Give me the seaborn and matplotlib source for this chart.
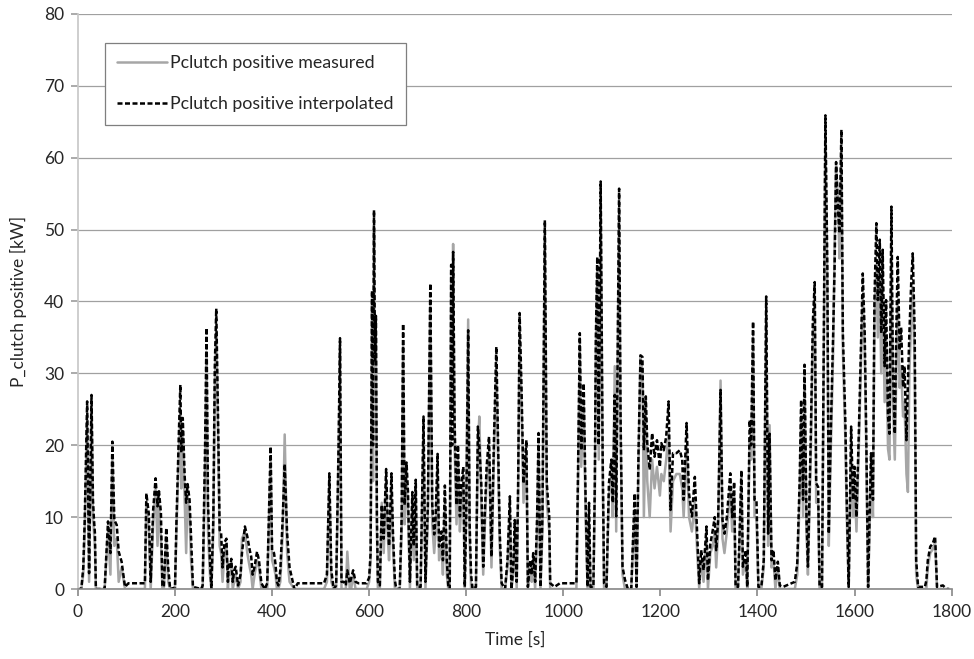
import matplotlib
matplotlib.use("Agg")
import matplotlib.pyplot as plt
import seaborn as sns
import pandas as pd

# --- data (time in s, clutch power in kW) ---
time_s = [
    0, 7, 11, 14, 19, 23, 28, 31, 33, 35,
    37, 55, 62, 67, 71, 75, 80, 84, 90, 97,
    104, 138, 141, 146, 150, 155, 160, 164, 167, 171,
    174, 177, 182, 186, 190, 200, 203, 208, 211, 213,
    216, 220, 223, 226, 230, 233, 237, 254, 257, 262,
    265, 268, 272, 275, 279, 282, 285, 289, 292, 295,
    298, 302, 306, 309, 311, 314, 316, 319, 322, 325,
    330, 335, 338, 344, 349, 354, 357, 360, 364, 369,
    373, 378, 385, 390, 397, 400, 404, 407, 410, 413,
    417, 422, 426, 431, 436, 446, 453, 507, 513, 518,
    522, 527, 532, 537, 540, 543, 548, 552, 555, 560,
    563, 567, 572, 578, 595, 600, 603, 606, 608, 610,
    612, 614, 616, 618, 622, 626, 630, 635, 638, 641,
    646, 649, 653, 656, 663, 667, 670, 673, 677, 680,
    684, 689, 692, 696, 699, 706, 712, 716, 721, 726,
    730, 734, 737, 741, 744, 749, 752, 756, 760, 763,
    766, 769, 771, 773, 776, 780, 783, 787, 790, 794,
    797, 800, 804, 807, 810, 813, 820, 824, 827, 831,
    835, 838, 842, 847, 852, 857, 862, 866, 869, 873,
    880, 885, 890, 893, 897, 900, 904, 907, 910, 914,
    918, 924, 927, 932, 935, 938, 942, 946, 949, 953,
    957, 962, 966, 971, 973, 982, 993, 1027, 1030, 1034,
    1037, 1042, 1046, 1050, 1053, 1056, 1062, 1065, 1067, 1070,
    1073, 1077, 1081, 1084, 1089, 1094, 1099, 1102, 1106, 1109,
    1115, 1118, 1122, 1127, 1133, 1140, 1147, 1151, 1155, 1159,
    1163, 1166, 1170, 1173, 1178, 1183, 1188, 1193, 1199, 1202,
    1207, 1212, 1217, 1221, 1226, 1233, 1240, 1245, 1248, 1254,
    1259, 1265, 1271, 1276, 1280, 1284, 1289, 1295, 1298, 1303,
    1308, 1312, 1315, 1319, 1324, 1328, 1332, 1337, 1344, 1348,
    1352, 1355, 1360, 1367, 1370, 1376, 1379, 1384, 1387, 1391,
    1394, 1398, 1402, 1408, 1413, 1418, 1422, 1425, 1429, 1433,
    1437, 1442, 1446, 1453, 1470, 1477, 1482, 1487, 1490, 1494,
    1497, 1501, 1504, 1510, 1514, 1518, 1521, 1525, 1528, 1533,
    1536, 1540, 1544, 1547, 1551, 1556, 1559, 1562, 1566, 1569,
    1573, 1576, 1581, 1584, 1588, 1593, 1597, 1600, 1604, 1609,
    1614, 1617, 1621, 1624, 1628, 1631, 1634, 1638, 1641, 1645,
    1648, 1652, 1655, 1658, 1662, 1665, 1669, 1672, 1676, 1679,
    1683, 1686, 1689, 1693, 1696, 1700, 1703, 1707, 1710, 1713,
    1717, 1720, 1724, 1727, 1731, 1745, 1748, 1751, 1756, 1761,
    1766, 1770, 1782, 1790, 1795,
]

p_interp = [
    0, 0, 3, 9.6, 26.1, 2.2, 27, 12.4, 9.7, 7.8,
    0, 0, 9.4, 5, 20.5, 9.6, 8.9, 5.2, 3.8, 0.3,
    0.8, 0.8, 13.3, 10.5, 1, 11, 15.4, 11.5, 13.6, 10.6,
    0.5, 0.3, 8.5, 3, 0, 0.2, 9.4, 21.7, 28.4, 19,
    23.8, 15.6, 12, 14.6, 12.4, 7.4, 0.3, 0, 0.5, 20,
    36.3, 12, 4, 0, 10, 30.9, 39, 22.5, 8.2, 7.8,
    3, 6.5, 7, 1, 3.7, 3.1, 4.2, 1, 2.6, 3.1,
    0.5, 2, 5, 8.7, 7.3, 5.4, 4.5, 2, 3.1, 5.2,
    4, 0.8, 0, 0.8, 19.8, 5.4, 5, 3.5, 1, 0.5,
    2.6, 10, 17.4, 7.7, 3, 0, 0.8, 0.8, 2, 16.1,
    2.6, 0, 0.5, 20, 34.9, 1, 1, 0.5, 2.6, 0.8,
    1.5, 2.6, 1, 0.8, 0.8, 1.6, 5, 41.5, 20, 52.7,
    31.6, 38, 10, 1, 0.5, 11.7, 7, 16.7, 10, 6,
    16.1, 8, 1.2, 0, 0, 10, 36.9, 11.7, 17.6, 13.5,
    1, 13.5, 6, 15.2, 0.3, 0.3, 24, 1, 11.7, 42.5,
    11.7, 7.6, 10, 18.8, 5.9, 8, 4, 14.4, 4, 0.5,
    0, 45.1, 20, 46.9, 23.4, 11.7, 20, 10.1, 14.7, 17,
    0.3, 10, 36, 9.1, 2, 0, 0.3, 22.6, 20, 14.7,
    3.1, 10, 17, 21.2, 4.5, 20.3, 33.7, 19.3, 8, 0.8,
    0, 4, 12.9, 0, 3, 9.6, 1, 15, 38.4, 27.7,
    14.7, 20.7, 0.3, 4, 2, 5, 1, 10, 21.7, 0.3,
    10, 51.3, 14.7, 10.1, 0.8, 0.3, 0.8, 0.8, 14.7, 35.6,
    19.3, 28.6, 12.4, 0.3, 12, 0.3, 0.3, 15, 34.6, 46.2,
    20, 56.7, 19.3, 0.8, 0.3, 14.7, 18, 12, 27, 10.1,
    55.7, 24, 3.1, 1.3, 0, 0, 13.3, 0.3, 19.3, 32.5,
    32.3, 19.3, 26.8, 20.3, 16.6, 21.7, 18.4, 20.7, 17, 20.3,
    19.3, 21.2, 26.1, 11, 18.9, 18.9, 19.3, 18, 12.4, 23.1,
    13.3, 10.1, 15.6, 7.3, 0.8, 5.4, 2.6, 8.7, 1.2, 6.3,
    8.2, 10, 5.4, 9.6, 27.7, 9.6, 7.7, 10, 16.1, 10,
    14.9, 0.3, 0.3, 16.5, 3.1, 5.4, 0.3, 23.5, 20, 37.2,
    12.4, 12.4, 0.3, 0.3, 4, 40.7, 7.7, 21.6, 4, 5.4,
    1.2, 3.8, 0.5, 0.3, 0.8, 1, 3.6, 15.2, 26.3, 12.4,
    31.2, 10, 3.1, 21.6, 36.9, 42.7, 14.7, 14.2, 0.3, 0.3,
    28.6, 65.9, 44.8, 7.7, 21.6, 35.6, 45, 59.4, 52.7, 49.5,
    63.9, 35.6, 23.5, 12.4, 0.3, 22.6, 12.4, 17, 10, 22.1,
    35.6, 43.9, 35.6, 22.3, 0.3, 10, 18.9, 12.4, 40.2, 50.9,
    40.2, 48.6, 35.6, 47.2, 31, 40.2, 24, 21.6, 53.2, 31,
    21.6, 35.6, 46.2, 33.2, 36.4, 28.1, 31, 20.7, 28.6, 35.6,
    43, 46.7, 35.6, 4, 0.3, 0.3, 1.2, 4, 5.9, 6.3,
    7.3, 0.3, 0.5, 0, 0,
]

p_meas = [
    0, 0, 2, 8, 24, 1, 25, 10, 8, 6,
    0, 0, 8, 2, 18, 6, 7, 1, 3, 0,
    0, 0, 12, 8, 0, 9, 14, 6, 12, 7,
    0, 0, 7, 1, 0, 0, 8, 19, 25, 14,
    22, 12, 5, 13, 10, 4, 0, 0, 0, 16,
    33, 8, 2, 0, 8, 28, 36, 20, 6, 5,
    1, 5, 6, 0, 2, 2, 3, 0, 1, 2,
    0, 1, 7, 8, 5, 3, 2, 0, 2, 4,
    3, 0, 0, 0, 18, 4, 3, 2, 0, 0,
    1, 8, 21.5, 5, 1, 0, 0, 0, 1, 15,
    1, 0, 0, 18, 33, 0, 0, 0, 5.2, 0,
    0, 2, 0, 0, 0, 1, 4, 40, 15, 50,
    28, 35, 8, 0, 0, 12, 5, 15, 8, 4,
    14, 6, 0, 0, 0, 8, 34, 9, 16, 11,
    0, 12, 4, 14, 0, 0, 22, 0, 10, 40,
    9, 5, 8, 17, 4, 6, 2, 12, 2, 0,
    0, 44, 25, 48, 20, 9, 18, 8, 12, 15,
    0, 12, 37.5, 7, 0, 0, 0, 20, 24, 12,
    2, 8, 15, 19, 3, 18, 31, 17, 6, 0,
    0, 3, 11, 0, 2, 8, 0, 13, 36, 25,
    12, 19, 0, 3, 1, 4, 0, 8, 20, 0,
    8, 49, 12, 8, 0, 0, 0, 0, 12, 34,
    17, 26, 10, 0, 10, 0, 0, 13, 33, 44,
    18, 54, 17, 0, 0, 13, 16, 10, 31, 8,
    53, 22, 2, 0, 0, 0, 11, 0, 17, 32.5,
    30, 10, 24, 15, 10, 18, 14, 17, 13, 16,
    15, 18, 22, 8, 15, 16, 16, 14, 10, 20,
    10, 8, 12, 5, 0, 4, 1, 7, 0, 5,
    6, 8, 3, 8, 29, 7, 5, 8, 14, 8,
    13, 0, 0, 15, 2, 4, 0, 21, 18, 35,
    10, 10, 0, 0, 3, 38, 6, 22.8, 3, 4,
    0, 3, 0, 0, 0, 0, 2, 13, 24, 10,
    29, 8, 2, 19, 34, 40, 12, 12, 0, 0,
    26, 63, 42, 6, 19, 33, 48, 59, 54, 46,
    61, 33, 21, 10, 0, 20, 10, 15, 8, 20,
    33, 41, 33, 20, 0, 8, 17, 10, 37, 45,
    35, 44, 30, 42, 26, 35, 19.5, 18, 46, 26,
    18, 30, 40, 28, 31, 24, 26, 16, 13.5, 30,
    38, 42, 30, 2, 0, 0, 0, 3, 5, 5.5,
    6.5, 0, 0, 0, 0,
]

df = pd.DataFrame({"time": time_s, "measured": p_meas, "interpolated": p_interp})

sns.set_theme(style="white")
plt.rcParams["font.family"] = ["Lato", "DejaVu Sans"]

fig = plt.figure(figsize=(9.74, 6.59), dpi=100)
ax = fig.add_axes([0.080, 0.1062, 0.897, 0.8726])

sns.lineplot(data=df, x="time", y="measured", ax=ax, color="#a6a6a6",
             linewidth=1.8, label="Pclutch positive measured", estimator=None)
sns.lineplot(data=df, x="time", y="interpolated", ax=ax, color="black",
             linewidth=1.8, dashes=False, label="Pclutch positive interpolated",
             estimator=None)
ax.lines[1].set_dashes([2, 1])

ax.set_xlim(0, 1800)
ax.set_ylim(0, 80)
ax.set_xticks(range(0, 1801, 200))
ax.set_yticks(range(0, 81, 10))
ax.yaxis.grid(True, color="#a0a0a0", linewidth=0.9)
ax.xaxis.grid(False)

for side in ["top", "right"]:
    ax.spines[side].set_visible(False)
ax.spines["left"].set_color("#c8c8c8")
ax.spines["bottom"].set_color("#8c8c8c")
ax.tick_params(axis="x", direction="out", length=5, color="#8c8c8c",
               labelsize=12.5, pad=6, bottom=True)
ax.tick_params(axis="y", direction="out", length=5, color="#a0a0a0",
               labelsize=12.5, pad=5, left=True)

ax.set_xlabel("Time [s]", fontsize=12.5, labelpad=8)
ax.set_ylabel("P_clutch positive [kW]", fontsize=12.5, labelpad=12)

leg = ax.legend(loc="upper left", bbox_to_anchor=(0.031, 0.9496),
                borderaxespad=0, fontsize=12.8, handlelength=2.8,
                labelspacing=1.4, borderpad=0.7, handletextpad=0.15,
                fancybox=False, framealpha=1)
leg.get_frame().set_edgecolor("#7f7f7f")
leg.get_frame().set_linewidth(0.9)

fig.savefig("out.png", dpi=100, facecolor="white")
